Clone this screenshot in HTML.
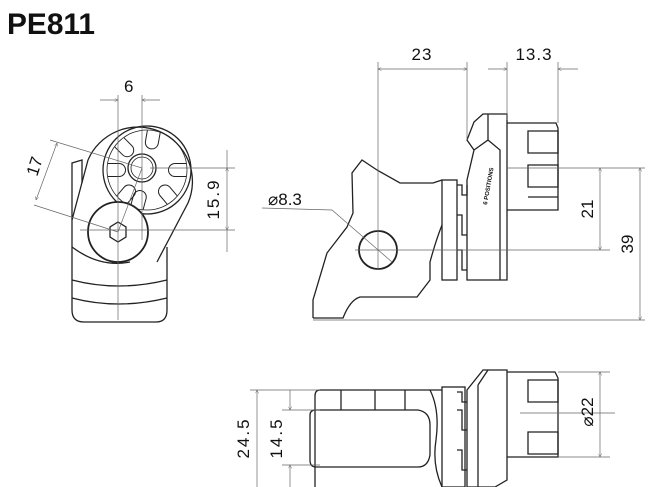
<!DOCTYPE html>
<html><head><meta charset="utf-8"><style>
html,body{margin:0;padding:0;background:#fff;}
svg{display:block;}
text{font-family:"Liberation Sans",sans-serif;fill:#111;}
</style></head><body>
<svg width="672" height="487" viewBox="0 0 672 487" xmlns="http://www.w3.org/2000/svg">
<defs>
<marker id="a" viewBox="0 0 10 10" refX="10" refY="5" markerWidth="7" markerHeight="5" orient="auto-start-reverse"><path d="M0,0 L10,5 L0,10" fill="none" stroke="#555" stroke-width="1.2"/></marker>
<path id="slot" d="M-6.5,-39 L-6.5,-28 A6.5,6.5 0 0 0 6.5,-28 L6.5,-39"/>
</defs>
<text x="7" y="34" font-size="30" font-weight="bold" textLength="88" lengthAdjust="spacingAndGlyphs">PE811</text>

<g fill="none" stroke="#222" stroke-width="1.3">
<!-- LEFT VIEW -->
<path d="M72,247 L72,310 Q72,322 84,322 L156,322 Q167,322 167,310 L167,247"/>
<path d="M72,280 Q118,292 167,280 M72,298 Q118,310 167,298"/>
<path d="M72,220 L72,163 L82,160 L82,183"/>
<path d="M88,160 A52,52 0 1 1 188,203 L157,262"/>
<path d="M88,160 L72,220 L72,247"/>
<path d="M72,247 Q100,268 130,262"/>
<circle cx="147" cy="170" r="44"/>
<circle cx="147" cy="170" r="40" stroke-width="0.8"/>
<circle cx="142" cy="168" r="14"/>
<circle cx="142" cy="168" r="11" stroke-width="0.8"/>
<g transform="translate(147,170)" stroke-width="1">
<use href="#slot" transform="rotate(-45)"/>
<use href="#slot" transform="rotate(10)"/>
<use href="#slot" transform="rotate(90)"/>
<use href="#slot" transform="rotate(140)"/>
<use href="#slot" transform="rotate(-90)"/>
<use href="#slot" transform="rotate(-140)"/>
<use href="#slot" transform="rotate(195)"/>
</g>
<circle cx="118" cy="232" r="30" fill="#fff" stroke-width="1.8"/>
<path d="M118,222 l8,5 l0,10 l-8,5 l-8,-5 l0,-10z"/>
<!-- RIGHT VIEW -->
<path d="M313,318 L313,300 L327,253 L347,227 L353,213 L352,173 L362,160 L377,170 L400,183 L433,183 L442,180"/>
<path d="M318,318 L343,318 Q350,300 360,297 L417,297 L430,280 L430,262 Q436,240 442,225"/>
<path d="M313,318 L318,318"/>
<rect x="442" y="180" width="15" height="100"/>
<path d="M457,185 h5 v10 h5 v-10 M457,215 h5 v20 h5 M457,250 h5 v20 h5"/>
<path d="M467,140 L474,122 L483,114 L507,114 L507,280 L467,280 L467,180 L474,150 Z"/>
<path d="M474,150 L488,140 L488,114 M488,140 L500,150 L500,280"/>
<path d="M507,123 L556,123 L558,128 L558,210 L507,210"/>
<path d="M528,131 h30 v22 h-30 z M528,165 h30 v22 h-30 z M528,197 h30"/>
<circle cx="378" cy="250" r="19" stroke-width="1.8"/>
<!-- BOTTOM VIEW -->
<path d="M442,390 L320,390 Q315,390 315,396 L315,487"/>
<path d="M310,415 Q310,410 316,410 L418,410 Q430,412 430,425 L430,455 Q428,467 418,467 L316,467 Q310,467 310,460 Z"/>
<path d="M341,390 v20 M375,390 v20 M405,390 v20 M430,390 Q440,410 436,440 Q432,465 442,487"/>
<rect x="442" y="387" width="23" height="100"/>
<path d="M457,392 h5 v10 h5 M457,410 h5 v20 h5 M457,450 h5 v20 h5"/>
<path d="M467,390 L483,370 L507,370 L507,480 L495,487 L467,487 Z"/>
<path d="M478,385 L478,487 M478,385 L488,370"/>
<path d="M507,372 L555,372 L558,378 L558,457 L507,457"/>
<path d="M528,380 h30 v22 h-30 z M528,432 h30 v22 h-30 z"/>
</g>

<g fill="none" stroke="#666" stroke-width="0.7">
<path d="M118,95 V320 M142,95 V240"/>
<path d="M100,100 H118" marker-end="url(#a)"/><path d="M160,100 H142" marker-end="url(#a)"/>
<path d="M50,140 L142,168 M34,205 L118,232 M118,232 L142,168"/>
<path d="M57,143 L36,200" marker-start="url(#a)" marker-end="url(#a)"/>
<path d="M150,168 H235 M80,230 H235"/>
<path d="M227,168 V230" marker-start="url(#a)" marker-end="url(#a)"/>
<path d="M227,150 V168 M227,230 V252"/>
<path d="M378,62 V270 M467,62 V140 M507,62 V120 M558,62 V123"/>
<path d="M378,69 H467" marker-start="url(#a)" marker-end="url(#a)"/>
<path d="M488,69 H507" marker-end="url(#a)"/><path d="M578,69 H558" marker-end="url(#a)"/>
<path d="M507,168 H645 M355,250 H610 M313,320 H645"/>
<path d="M600,168 V250" marker-start="url(#a)" marker-end="url(#a)"/>
<path d="M640,168 V320" marker-start="url(#a)" marker-end="url(#a)"/>
<path d="M262,208 L332,210 L392,262"/>
<path d="M250,390 H320 M282,410 H320 M282,465 H320 M520,413 H615 M558,372 H610 M558,457 H610"/>
<path d="M257,390 V487" marker-start="url(#a)"/>
<path d="M290,390 V410" marker-end="url(#a)"/><path d="M290,487 V465" marker-end="url(#a)"/>
<path d="M600,372 V457" marker-start="url(#a)" marker-end="url(#a)"/>
</g>

<g font-size="17">
<text x="124" y="92">6</text>
<text x="422" y="60" text-anchor="middle" letter-spacing="1">23</text>
<text x="534" y="60" text-anchor="middle" letter-spacing="1">13.3</text>
<text x="268" y="205">⌀8.3</text>
<text transform="translate(40,168) rotate(-72)" text-anchor="middle">17</text>
<text transform="translate(219,199) rotate(-90)" text-anchor="middle" letter-spacing="2">15.9</text>
<text transform="translate(593,209) rotate(-90)" text-anchor="middle">21</text>
<text transform="translate(633,244) rotate(-90)" text-anchor="middle">39</text>
<text transform="translate(249,438) rotate(-90)" text-anchor="middle" letter-spacing="2">24.5</text>
<text transform="translate(282,438) rotate(-90)" text-anchor="middle" letter-spacing="2">14.5</text>
<text transform="translate(593,412) rotate(-90)" text-anchor="middle">⌀22</text>
</g>
<text transform="translate(487,205) rotate(-80)" font-size="6" font-weight="bold">6 POSITIONS</text>
</svg>
</body></html>
